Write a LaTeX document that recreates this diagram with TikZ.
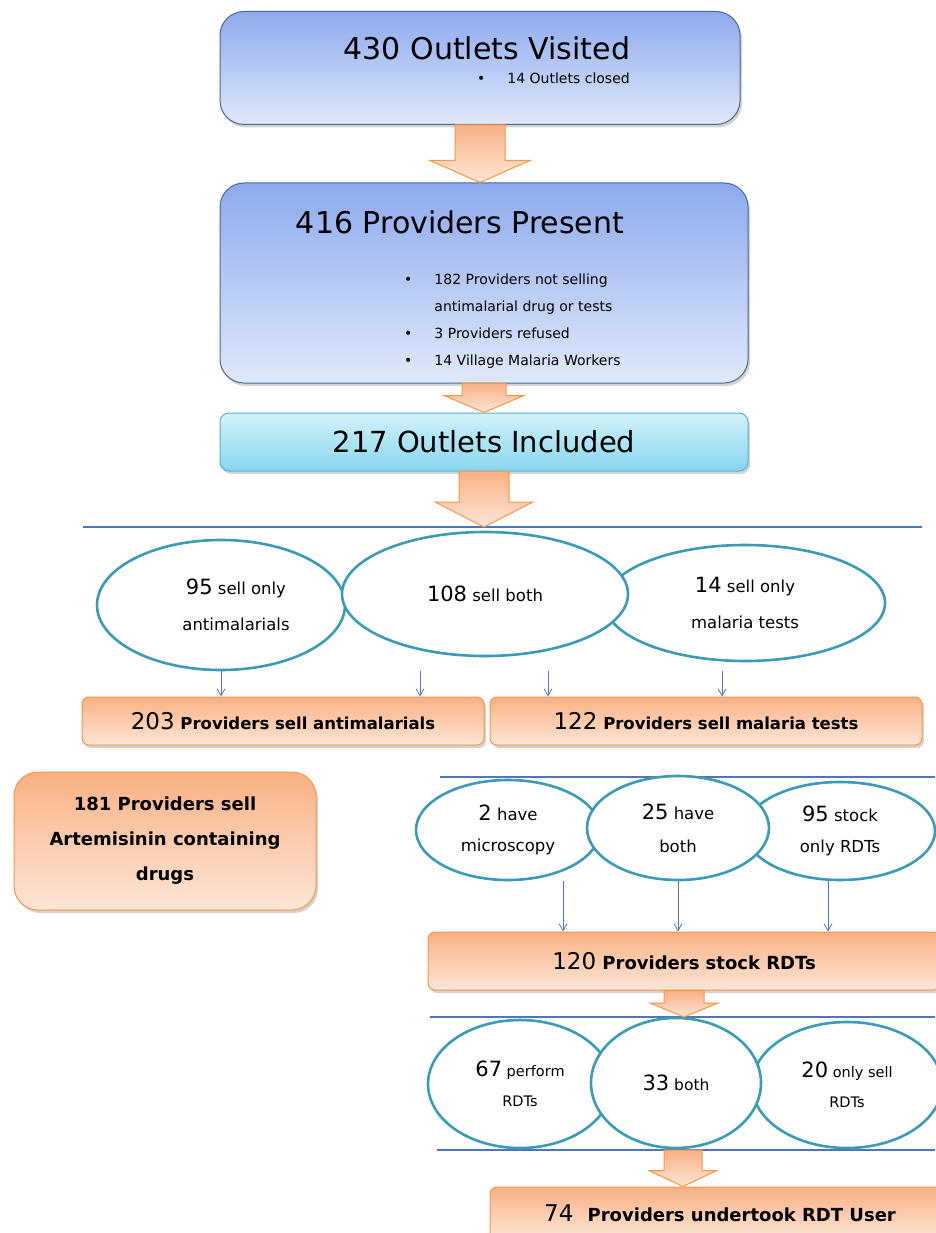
\documentclass[tikz,border=0pt]{standalone}
\usepackage{fontspec}
\setmainfont{DejaVu Sans}
\usetikzlibrary{shapes.geometric,shadows,calc,arrows.meta}

\definecolor{boxblue}{HTML}{8DAAEE}
\definecolor{boxbluelight}{HTML}{E0E9FA}
\definecolor{blueedge}{HTML}{4A6799}
\definecolor{cyantop}{HTML}{D3F3FB}
\definecolor{cyanbot}{HTML}{86D6EE}
\definecolor{cyanedge}{HTML}{5AAFCB}
\definecolor{orangetop}{HTML}{F9B184}
\definecolor{orangebot}{HTML}{FDE6D7}
\definecolor{orangeedge}{HTML}{F79646}
\definecolor{ringteal}{HTML}{3B9AB4}
\definecolor{rulecol}{HTML}{4F76BA}

\newcommand{\bignum}[1]{{\fontsize{21}{26}\selectfont #1}}
\newcommand{\boxnum}[1]{{\fontsize{23}{26}\selectfont\mdseries #1}}
% vertical block arrow: from, to, half shaft, half head, head length
\newcommand{\fatarrow}[5]{%
  \draw[fatarrowstyle] let \p1=(#1), \p2=(#2) in
    (\x1-#3pt,\y1) -- (\x1-#3pt,\y2+#5pt) -- (\x1-#4pt,\y2+#5pt) -- (\x1,\y2)
    -- (\x1+#4pt,\y2+#5pt) -- (\x1+#3pt,\y2+#5pt) -- (\x1+#3pt,\y1) -- cycle;}

\tikzset{
  softshadow/.style={drop shadow={opacity=0.35,shadow xshift=2pt,shadow yshift=-3pt}},
  bluebox/.style={draw=blueedge, line width=1pt, rounded corners=24pt,
    top color=boxblue, bottom color=boxbluelight, softshadow},
  cyanbox/.style={draw=cyanedge, line width=1pt, rounded corners=9pt,
    top color=cyantop, bottom color=cyanbot, softshadow,
    font=\fontsize{29}{34}\selectfont},
  orangebox/.style={draw=orangeedge, line width=1pt, rounded corners=7pt,
    top color=orangetop, bottom color=orangebot, softshadow,
    font=\fontsize{16.5}{20}\selectfont\bfseries},
  ring/.style={ellipse, draw=ringteal, line width=2.6pt, fill=white,
    inner sep=0pt, align=center, font=\fontsize{16.5}{36}\selectfont},
  titletext/.style={font=\fontsize{30}{36}\selectfont},
  bullettext/.style={font=\fontsize{14}{27}\selectfont, inner sep=0pt},
  thinarrow/.style={draw=rulecol, line width=0.8pt, -{Straight Barb[length=7pt,width=8pt]}},
  divider/.style={draw=rulecol, line width=1.2pt},
  fatarrowstyle/.style={draw=orangeedge, line width=1pt, top color=orangetop, bottom color=orangebot}
}

\begin{document}
\begin{tikzpicture}[x=1pt,y=-1pt]
\useasboundingbox (0,0) rectangle (935,1233);

% top boxes
\node[bluebox, minimum width=520pt, minimum height=113pt] (visited) at (480,68) {};
\node[titletext] (visitedtitle) at (487,48) {430 Outlets Visited};
\node[bullettext, anchor=west] (closed) at (477,78) {\textbullet\hspace{22pt}14 Outlets closed};

\node[bluebox, minimum width=528pt, minimum height=200pt] (present) at (484,283) {};
\node[titletext] (presenttitle) at (460,222) {416 Providers Present};
\node[bullettext, anchor=north west, align=left] (excluded) at (404,265) {%
  \begin{tabular}{@{}l@{\hspace{22pt}}l@{}}
  \textbullet & 182 Providers not selling\\
              & antimalarial drug or tests\\
  \textbullet & 3 Providers refused\\
  \textbullet & 14 Village Malaria Workers
  \end{tabular}};

\node[cyanbox, minimum width=528pt, minimum height=58pt] (included) at (484,442) {217 Outlets Included};

\coordinate (l1) at (480,527);
\draw[divider] (83,527) -- (922,527);

% first row of rings
\node[ring, minimum width=248pt, minimum height=130pt] (onlydrug) at (221,605)
  {\hspace{30pt}\bignum{95} sell only\\\hspace{30pt}antimalarials};
\node[ring, minimum width=280pt, minimum height=116pt] (onlytest) at (745,603)
  {\bignum{14} sell only\hspace{18pt}\\malaria tests\hspace{18pt}};
\node[ring, minimum width=286pt, minimum height=124pt] (sellboth) at (485,594)
  {\bignum{108} sell both};

\node[orangebox, minimum width=402pt, minimum height=48pt] (sellanti) at (283,721)
  {\boxnum{203} Providers sell antimalarials};
\node[orangebox, minimum width=432pt, minimum height=48pt] (selltest) at (706,721)
  {\boxnum{122} Providers sell malaria tests};

\draw[thinarrow] (onlydrug.south) -- (onlydrug.south |- sellanti.north);
\draw[thinarrow] ([xshift=-65pt]sellboth.south |- onlydrug.south) -- ([xshift=-65pt]sellboth.south |- sellanti.north);
\draw[thinarrow] ([xshift=63pt]sellboth.south |- onlydrug.south) -- ([xshift=63pt]sellboth.south |- selltest.north);
\draw[thinarrow] ([xshift=-23pt]onlytest.south |- onlydrug.south) -- ([xshift=-23pt]onlytest.south |- selltest.north);

\node[orangebox, rounded corners=24pt, minimum width=302pt, minimum height=138pt,
  align=center, font=\fontsize{18}{35}\selectfont\bfseries] (artemisinin) at (165,841)
  {181 Providers sell\\Artemisinin containing\\drugs};

% second row of rings
\draw[divider] (440,777) -- (935,777);
\node[ring, minimum width=184pt, minimum height=100pt, font=\fontsize{16.5}{31}\selectfont] (microscopy) at (508,830)
  {\bignum{2} have\\microscopy};
\node[ring, minimum width=190pt, minimum height=98pt, font=\fontsize{16.5}{31}\selectfont] (onlyrdt) at (840,831)
  {\bignum{95} stock\\only RDTs};
\node[ring, minimum width=182pt, minimum height=104pt, font=\fontsize{16.5}{33}\selectfont] (haveboth) at (678,828)
  {\bignum{25} have\\both};

\node[orangebox, minimum width=512pt, minimum height=58pt, font=\fontsize{18}{20}\selectfont\bfseries] (stockrdt) at (684,961)
  {\boxnum{120} Providers stock RDTs};

\draw[thinarrow] ([xshift=55pt]microscopy.south |- haveboth.south) -- ([xshift=55pt]microscopy.south |- stockrdt.north);
\draw[thinarrow] (haveboth.south) -- (haveboth.south |- stockrdt.north);
\draw[thinarrow] ([xshift=-12pt]onlyrdt.south |- haveboth.south) -- ([xshift=-12pt]onlyrdt.south |- stockrdt.north);

% third row of rings
\coordinate (l3) at (684,1017);
\draw[divider] (430,1017) -- (935,1017);
\node[ring, minimum width=184pt, minimum height=128pt, font=\fontsize{14.5}{30}\selectfont] (perform) at (520,1084)
  {\bignum{67} perform\\RDTs};
\node[ring, minimum width=190pt, minimum height=126pt, font=\fontsize{14.5}{30}\selectfont] (onlysell) at (847,1085)
  {\bignum{20} only sell\\RDTs};
\node[ring, minimum width=170pt, minimum height=130pt, font=\fontsize{15.5}{18}\selectfont] (perfboth) at (676,1083)
  {\bignum{33} both};

\coordinate (l4) at (683,1150);
\draw[divider] (437,1150) -- (935,1150);

\node[orangebox, minimum width=460pt, minimum height=52pt, font=\fontsize{18}{20}\selectfont\bfseries] (undertook) at (720,1213)
  {\boxnum{74}\hspace{8pt} Providers undertook RDT User};

% block arrows
\fatarrow{visited.south}{present.north}{25}{50}{22}
\fatarrow{present.south}{included.north}{22}{40}{17}
\fatarrow{included.south}{l1}{25}{49}{25}
\fatarrow{stockrdt.south}{l3}{20}{34}{14}
\fatarrow{l4}{undertook.north}{19}{34}{16}
\end{tikzpicture}
\end{document}
